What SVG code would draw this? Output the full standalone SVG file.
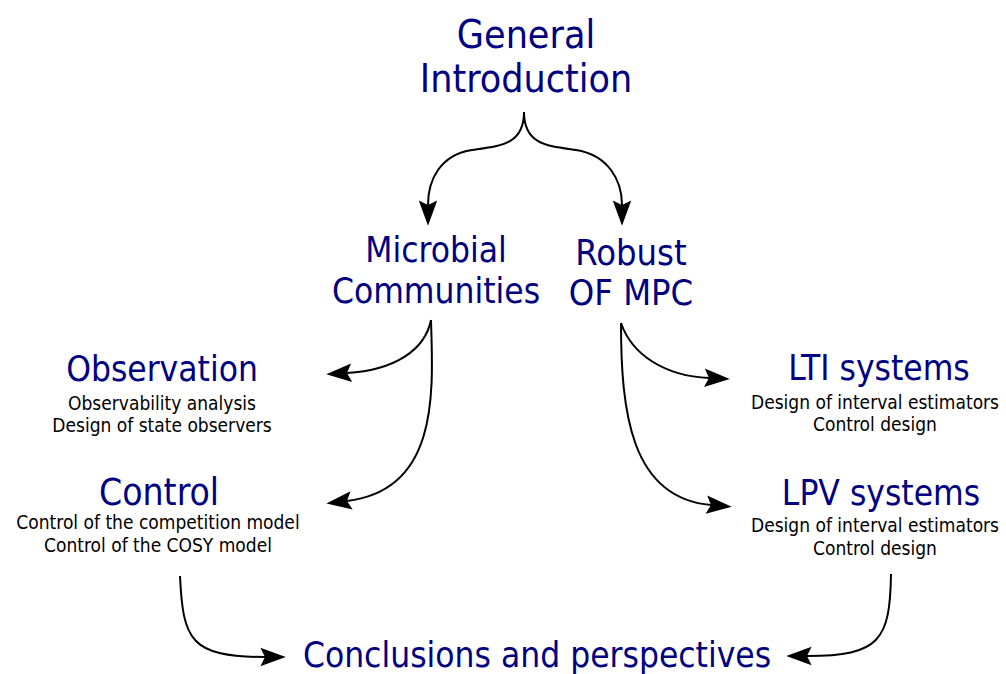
<svg xmlns="http://www.w3.org/2000/svg" width="1006" height="674" viewBox="0 0 1006 674">
<style>
text{font-family:"DejaVu Sans Condensed","DejaVu Sans",sans-serif;font-stretch:condensed;text-anchor:middle}
.t{fill:#000080;font-size:39px}
.m{fill:#000080;font-size:35px}
.s{fill:#000;font-size:19px}
.c{fill:none;stroke:#000;stroke-width:2}
</style>
<defs>
<marker id="ah" markerUnits="userSpaceOnUse" markerWidth="30" markerHeight="30" viewBox="-6 -10 26 20" refX="0" refY="0" orient="auto" overflow="visible">
<path d="M18,0 L-4,-8 L0,0 L-4,8 Z" fill="#000"/>
</marker>
</defs>
<rect width="1006" height="674" fill="#fff"/>
<g id="connectors">
<path class="c" marker-end="url(#ah)" d="M524,112 C524,145 500,146 472,150 C440,155 428,180 428,205"/>
<path class="c" marker-end="url(#ah)" d="M524,112 C524,145 548,146 576,150 C608,155 622,180 622,205"/>
<path class="c" marker-end="url(#ah)" d="M431,320 C425,350 395,370 347,373"/>
<path class="c" marker-end="url(#ah)" d="M431,320 C433,390 440,490 347,501"/>
<path class="c" marker-end="url(#ah)" d="M621,323 C632,355 665,376 709,378"/>
<path class="c" marker-end="url(#ah)" d="M621,323 C621,410 630,498 711,505"/>
<path class="c" marker-end="url(#ah)" d="M180,576 C183,640 190,657 265,657"/>
<path class="c" marker-end="url(#ah)" d="M891,574 C890,640 880,656 807,656"/>
</g>
<g id="general"><text class="t" x="526" y="48">General</text><text class="t" x="526" y="92">Introduction</text></g>
<g id="microbial"><text class="m" x="436" y="262">Microbial</text><text class="m" x="436" y="303">Communities</text></g>
<g id="robust"><text class="m" x="631" y="265" style="font-size:36px">Robust</text><text class="m" x="631" y="305" style="font-size:36px">OF MPC</text></g>
<g id="observation"><text class="m" x="162" y="381">Observation</text><text class="s" x="162" y="410">Observability analysis</text><text class="s" x="162" y="432">Design of state observers</text></g>
<g id="control"><text class="m" x="159" y="505" style="font-size:37px">Control</text><text class="s" x="158" y="529">Control of the competition model</text><text class="s" x="158" y="552">Control of the COSY model</text></g>
<g id="lti"><text class="m" x="879" y="380">LTI systems</text><text class="s" x="875" y="409">Design of interval estimators</text><text class="s" x="875" y="431">Control design</text></g>
<g id="lpv"><text class="m" x="881" y="505">LPV systems</text><text class="s" x="875" y="532">Design of interval estimators</text><text class="s" x="875" y="555">Control design</text></g>
<g id="conclusions"><text class="m" x="537" y="667">Conclusions and perspectives</text></g>
</svg>
